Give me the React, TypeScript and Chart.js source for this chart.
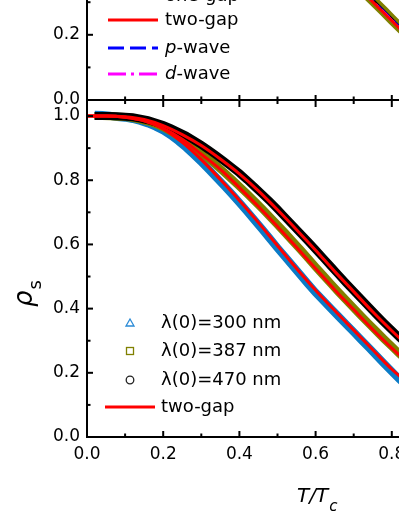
import React, { useEffect, useRef } from 'react';
import { Chart, registerables } from 'chart.js';

Chart.register(...registerables);

// ---------- data (bottom panel) ----------
const T_DATA = [
  0.02, 0.04, 0.06, 0.08, 0.10, 0.12, 0.14, 0.16, 0.18, 0.20,
  0.22, 0.24, 0.26, 0.28, 0.30, 0.32, 0.34, 0.36, 0.38, 0.40,
  0.42, 0.44, 0.46, 0.48, 0.50, 0.52, 0.54, 0.56, 0.58, 0.60,
  0.62, 0.64, 0.66, 0.68, 0.70, 0.72, 0.74, 0.76, 0.78, 0.80,
  0.82, 0.84,
];
const RHO_300 = [
  1.004, 1.003, 1.001, 0.997, 0.995, 0.991, 0.985, 0.977, 0.967, 0.955,
  0.940, 0.922, 0.902, 0.880, 0.857, 0.833, 0.808, 0.783, 0.757, 0.730,
  0.703, 0.675, 0.647, 0.618, 0.589, 0.561, 0.533, 0.505, 0.477, 0.450,
  0.425, 0.400, 0.376, 0.351, 0.327, 0.302, 0.278, 0.253, 0.228, 0.204,
  0.180, 0.158,
];
const RHO_387 = [
  1.000, 1.000, 0.999, 0.998, 0.997, 0.994, 0.989, 0.983, 0.975, 0.965,
  0.952, 0.937, 0.921, 0.904, 0.885, 0.866, 0.846, 0.825, 0.803, 0.781,
  0.758, 0.735, 0.711, 0.686, 0.661, 0.636, 0.610, 0.584, 0.557, 0.530,
  0.504, 0.478, 0.452, 0.427, 0.402, 0.377, 0.353, 0.329, 0.305, 0.282,
  0.259, 0.237,
];
const RHO_470 = [
  1.000, 1.000, 1.000, 0.999, 0.998, 0.996, 0.992, 0.987, 0.980, 0.972,
  0.962, 0.951, 0.939, 0.925, 0.910, 0.894, 0.877, 0.859, 0.841, 0.822,
  0.801, 0.779, 0.757, 0.734, 0.710, 0.685, 0.660, 0.635, 0.610, 0.584,
  0.558, 0.532, 0.506, 0.480, 0.455, 0.430, 0.405, 0.380, 0.356, 0.333,
  0.310, 0.288,
];
const T_FIT = [0, 0.05, 0.1, 0.15, 0.2, 0.25, 0.3, 0.35, 0.4, 0.45, 0.5, 0.55, 0.6, 0.65, 0.7, 0.75, 0.8, 0.85];
const FIT_470 = [1.0, 1.0, 0.998, 0.989, 0.970, 0.942, 0.908, 0.866, 0.820, 0.767, 0.708, 0.646, 0.582, 0.516, 0.453, 0.390, 0.331, 0.275];
const FIT_387 = [1.0, 1.0, 0.996, 0.985, 0.962, 0.928, 0.881, 0.834, 0.777, 0.718, 0.656, 0.591, 0.525, 0.459, 0.397, 0.335, 0.277, 0.223];
const FIT_300 = [1.0, 1.0, 0.996, 0.985, 0.960, 0.918, 0.864, 0.802, 0.737, 0.668, 0.596, 0.525, 0.457, 0.394, 0.333, 0.272, 0.211, 0.160];

// ---------- data (top panel, visible part) ----------
const T_TOP = [0.60, 0.62, 0.64, 0.66, 0.68, 0.70, 0.72, 0.74, 0.76, 0.78, 0.80, 0.82, 0.84];
const TOP_DATA = [0.481, 0.458, 0.434, 0.411, 0.388, 0.364, 0.341, 0.317, 0.294, 0.271, 0.247, 0.224, 0.201];
const T_TOP_FIT = [0.6, 0.65, 0.7, 0.75, 0.8, 0.85];
const TOP_ONE_GAP = [0.485, 0.427, 0.368, 0.309, 0.250, 0.191];
const TOP_P_WAVE = [0.480, 0.422, 0.363, 0.304, 0.246, 0.188];
const TOP_D_WAVE = [0.478, 0.420, 0.361, 0.302, 0.244, 0.186];
const TOP_TWO_GAP = [0.477, 0.419, 0.360, 0.301, 0.243, 0.185];

// ---------- labels ----------
const BOTTOM_LEGEND = ['λ(0)=300 nm', 'λ(0)=387 nm', 'λ(0)=470 nm', 'two-gap'];
const TOP_LEGEND = ['one-gap', 'two-gap', 'p-wave', 'd-wave'];
const X_TITLE = ['T/T', 'c'];
const Y_TITLE = ['ρ', 's'];

const RED = '#ff0000';
const BLUE_DATA = '#0b7bc6';
const OLIVE = '#808000';
const BLACK = '#000000';
const FONT = '"DejaVu Sans", "Liberation Sans", sans-serif';

const pts = (xs: number[], ys: number[]) => xs.map((x, i) => ({ x, y: ys[i] }));
const isMajor = (v: number) => Math.round(v * 10) % 2 === 0;
const tickLabel = (v: any) => (isMajor(Number(v)) ? Number(v).toFixed(1) : '');

function line(ctx: CanvasRenderingContext2D, x1: number, y1: number, x2: number, y2: number) {
  ctx.beginPath();
  ctx.moveTo(x1, y1);
  ctx.lineTo(x2, y2);
  ctx.stroke();
}

const bottomFrame = {
  id: 'bottomFrame',
  afterDraw(chart: any) {
    const { ctx, chartArea } = chart;
    const { left, right, top, bottom } = chartArea;
    const xs = chart.scales.x;
    const ys = chart.scales.y;
    ctx.save();
    ctx.strokeStyle = '#000';
    ctx.lineWidth = 2;
    ctx.lineCap = 'butt';
    line(ctx, left, top - 1, left, bottom + 1);
    line(ctx, right, top - 1, right, bottom + 1);
    line(ctx, left - 1, bottom, right + 1, bottom);
    line(ctx, left - 1, top, right + 1, top);
    ys.ticks.forEach((t: any) => {
      const py = ys.getPixelForValue(t.value);
      const len = isMajor(t.value) ? 6 : 3.5;
      line(ctx, left, py, left + len, py);
      line(ctx, right, py, right - len, py);
    });
    xs.ticks.forEach((t: any) => {
      const px = xs.getPixelForValue(t.value);
      const len = isMajor(t.value) ? 6 : 3.5;
      line(ctx, px, bottom, px, bottom - len);
      const lenTop = isMajor(t.value) ? 7 : 4;
      line(ctx, px, top, px, top + lenTop);
    });

    // axis titles
    ctx.fillStyle = '#000';
    ctx.textAlign = 'left';
    ctx.textBaseline = 'alphabetic';
    ctx.font = `italic 20px ${FONT}`;
    const tx = left + 210;
    const ty = bottom + 65;
    ctx.fillText(X_TITLE[0], tx, ty);
    const tw = ctx.measureText(X_TITLE[0]).width;
    ctx.font = `italic 15px ${FONT}`;
    ctx.fillText(X_TITLE[1], tx + tw + 1, ty + 9);

    ctx.save();
    ctx.translate(left - 55, top + 207);
    ctx.rotate(-Math.PI / 2);
    ctx.font = `italic 26px ${FONT}`;
    ctx.fillText(Y_TITLE[0], 0, 0);
    const rw = ctx.measureText(Y_TITLE[0]).width;
    ctx.font = `18px ${FONT}`;
    ctx.fillText(Y_TITLE[1], rw + 1, 9);
    ctx.restore();

    // legend
    const lx = left + 43;
    const textX = left + 74;
    const rows = [top + 223, top + 251, top + 280, top + 307];
    ctx.lineWidth = 1.3;
    ctx.strokeStyle = '#2a8ad6';
    ctx.beginPath();
    ctx.moveTo(lx, rows[0] - 4);
    ctx.lineTo(lx + 4, rows[0] + 3);
    ctx.lineTo(lx - 4, rows[0] + 3);
    ctx.closePath();
    ctx.stroke();
    ctx.strokeStyle = OLIVE;
    ctx.strokeRect(lx - 3.5, rows[1] - 3.5, 7, 7);
    ctx.strokeStyle = '#222';
    ctx.beginPath();
    ctx.arc(lx, rows[2], 3.8, 0, Math.PI * 2);
    ctx.stroke();
    ctx.strokeStyle = RED;
    ctx.lineWidth = 3;
    line(ctx, left + 18, rows[3], left + 68, rows[3]);

    ctx.fillStyle = '#000';
    ctx.font = `18px ${FONT}`;
    ctx.textBaseline = 'middle';
    BOTTOM_LEGEND.forEach((s, i) => ctx.fillText(s, textX, rows[i]));
    ctx.restore();
  },
};

const topFrame = {
  id: 'topFrame',
  afterDraw(chart: any) {
    const { ctx, chartArea } = chart;
    const { left, right, top, bottom } = chartArea;
    const xs = chart.scales.x;
    const ys = chart.scales.y;
    ctx.save();
    ctx.strokeStyle = '#000';
    ctx.lineWidth = 2;
    line(ctx, left, top - 1, left, bottom + 1);
    line(ctx, right, top - 1, right, bottom + 1);
    line(ctx, left - 1, bottom, right + 1, bottom);
    ys.ticks.forEach((t: any) => {
      const py = ys.getPixelForValue(t.value);
      const len = isMajor(t.value) ? 6 : 3.5;
      line(ctx, left, py, left + len, py);
      line(ctx, right, py, right - len, py);
    });
    xs.ticks.forEach((t: any) => {
      const px = xs.getPixelForValue(t.value);
      const len = isMajor(t.value) ? 5 : 3.5;
      line(ctx, px, bottom, px, bottom - len);
    });

    // legend
    const x1 = left + 21;
    const x2 = left + 71;
    const textX = left + 78;
    const rows = [bottom - 104, bottom - 80, bottom - 52, bottom - 26];
    ctx.lineWidth = 3;
    ctx.strokeStyle = BLACK;
    line(ctx, x1, rows[0], x2, rows[0]);
    ctx.strokeStyle = RED;
    line(ctx, x1, rows[1], x2, rows[1]);
    ctx.strokeStyle = '#0000ff';
    ctx.setLineDash([16, 6]);
    line(ctx, x1, rows[2], x2, rows[2]);
    ctx.strokeStyle = '#ff00ff';
    ctx.setLineDash([18, 5, 3, 5]);
    line(ctx, x1, rows[3], x2, rows[3]);
    ctx.setLineDash([]);

    ctx.fillStyle = '#000';
    ctx.textBaseline = 'middle';
    ctx.textAlign = 'left';
    TOP_LEGEND.forEach((s, i) => {
      if (i >= 2) {
        ctx.font = `italic 18px ${FONT}`;
        const head = s.charAt(0);
        ctx.fillText(head, textX, rows[i]);
        const hw = ctx.measureText(head).width;
        ctx.font = `18px ${FONT}`;
        ctx.fillText(s.slice(1), textX + hw, rows[i]);
      } else {
        ctx.font = `18px ${FONT}`;
        ctx.fillText(s, textX, rows[i]);
      }
    });
    ctx.restore();
  },
};

const tickOpts = {
  stepSize: 0.1,
  autoSkip: false,
  includeBounds: false,
  maxRotation: 0,
  padding: 7,
  color: '#000',
  font: { size: 17, family: FONT },
  callback: tickLabel,
};

export default function App() {
  const topRef = useRef<HTMLCanvasElement>(null);
  const botRef = useRef<HTMLCanvasElement>(null);

  useEffect(() => {
    Chart.defaults.font.family = FONT;
    Chart.defaults.color = '#000';

    const bottom = new Chart(botRef.current as HTMLCanvasElement, {
      type: 'scatter',
      data: {
        datasets: [
          { label: 'two-gap 470', data: pts(T_FIT, FIT_470), showLine: true, borderColor: RED, backgroundColor: RED, borderWidth: 3, pointRadius: 0, cubicInterpolationMode: 'monotone', order: 0 },
          { label: 'two-gap 387', data: pts(T_FIT, FIT_387), showLine: true, borderColor: RED, backgroundColor: RED, borderWidth: 3, pointRadius: 0, cubicInterpolationMode: 'monotone', order: 0 },
          { label: 'two-gap 300', data: pts(T_FIT, FIT_300), showLine: true, borderColor: RED, backgroundColor: RED, borderWidth: 3, pointRadius: 0, cubicInterpolationMode: 'monotone', order: 0 },
          { label: BOTTOM_LEGEND[2], data: pts(T_DATA, RHO_470), showLine: true, borderColor: BLACK, backgroundColor: BLACK, borderWidth: 8, pointRadius: 0, order: 1 },
          { label: BOTTOM_LEGEND[1], data: pts(T_DATA, RHO_387), showLine: true, borderColor: OLIVE, backgroundColor: OLIVE, borderWidth: 8, pointRadius: 0, order: 2 },
          { label: BOTTOM_LEGEND[0], data: pts(T_DATA, RHO_300), showLine: true, borderColor: BLUE_DATA, backgroundColor: BLUE_DATA, borderWidth: 8, pointRadius: 0, order: 3 },
        ],
      } as any,
      options: {
        responsive: false,
        animation: false,
        layout: { padding: { left: 0, right: 32, top: 25, bottom: 0 } },
        plugins: { legend: { display: false }, tooltip: { enabled: false } },
        scales: {
          x: {
            type: 'linear', min: 0, max: 1,
            afterFit: (s: any) => { s.height = 79; },
            grid: { display: false, drawTicks: false },
            border: { display: false },
            ticks: tickOpts,
          },
          y: {
            type: 'linear', min: 0, max: 1.05,
            afterFit: (s: any) => { s.width = 87; },
            grid: { display: false, drawTicks: false },
            border: { display: false },
            ticks: tickOpts,
          },
        },
      } as any,
      plugins: [bottomFrame],
    });

    const topChart = new Chart(topRef.current as HTMLCanvasElement, {
      type: 'scatter',
      data: {
        datasets: [
          { label: 'two-gap', data: pts(T_TOP_FIT, TOP_TWO_GAP), showLine: true, borderColor: RED, borderWidth: 3, pointRadius: 0, cubicInterpolationMode: 'monotone', order: 0 },
          { label: 'd-wave', data: pts(T_TOP_FIT, TOP_D_WAVE), showLine: true, borderColor: '#ff00ff', borderWidth: 3, borderDash: [18, 5, 3, 5], pointRadius: 0, cubicInterpolationMode: 'monotone', order: 1 },
          { label: 'p-wave', data: pts(T_TOP_FIT, TOP_P_WAVE), showLine: true, borderColor: '#0000ff', borderWidth: 3, borderDash: [16, 6], pointRadius: 0, cubicInterpolationMode: 'monotone', order: 2 },
          { label: 'one-gap', data: pts(T_TOP_FIT, TOP_ONE_GAP), showLine: true, borderColor: BLACK, borderWidth: 2, pointRadius: 0, cubicInterpolationMode: 'monotone', order: 3 },
          { label: 'data', data: pts(T_TOP, TOP_DATA), showLine: true, borderColor: OLIVE, borderWidth: 10, pointRadius: 0, order: 4 },
        ],
      } as any,
      options: {
        responsive: false,
        animation: false,
        layout: { padding: { left: 0, right: 32, top: 25, bottom: 25 } },
        plugins: { legend: { display: false }, tooltip: { enabled: false } },
        scales: {
          x: { type: 'linear', min: 0, max: 1, display: false, ticks: { stepSize: 0.1, includeBounds: false } },
          y: {
            type: 'linear', min: 0, max: 0.5,
            afterFit: (s: any) => { s.width = 87; },
            grid: { display: false, drawTicks: false },
            border: { display: false },
            ticks: tickOpts,
          },
        },
      } as any,
      plugins: [topFrame],
    });

    return () => {
      bottom.destroy();
      topChart.destroy();
    };
  }, []);

  return (
    <div style={{ position: 'fixed', left: 0, top: 0, width: 399, height: 516, overflow: 'hidden', background: '#fff' }}>
      <canvas ref={botRef} width={500} height={441} style={{ position: 'absolute', left: 0, top: 75 }} />
      <canvas ref={topRef} width={500} height={213} style={{ position: 'absolute', left: 0, top: -88 }} />
    </div>
  );
}
